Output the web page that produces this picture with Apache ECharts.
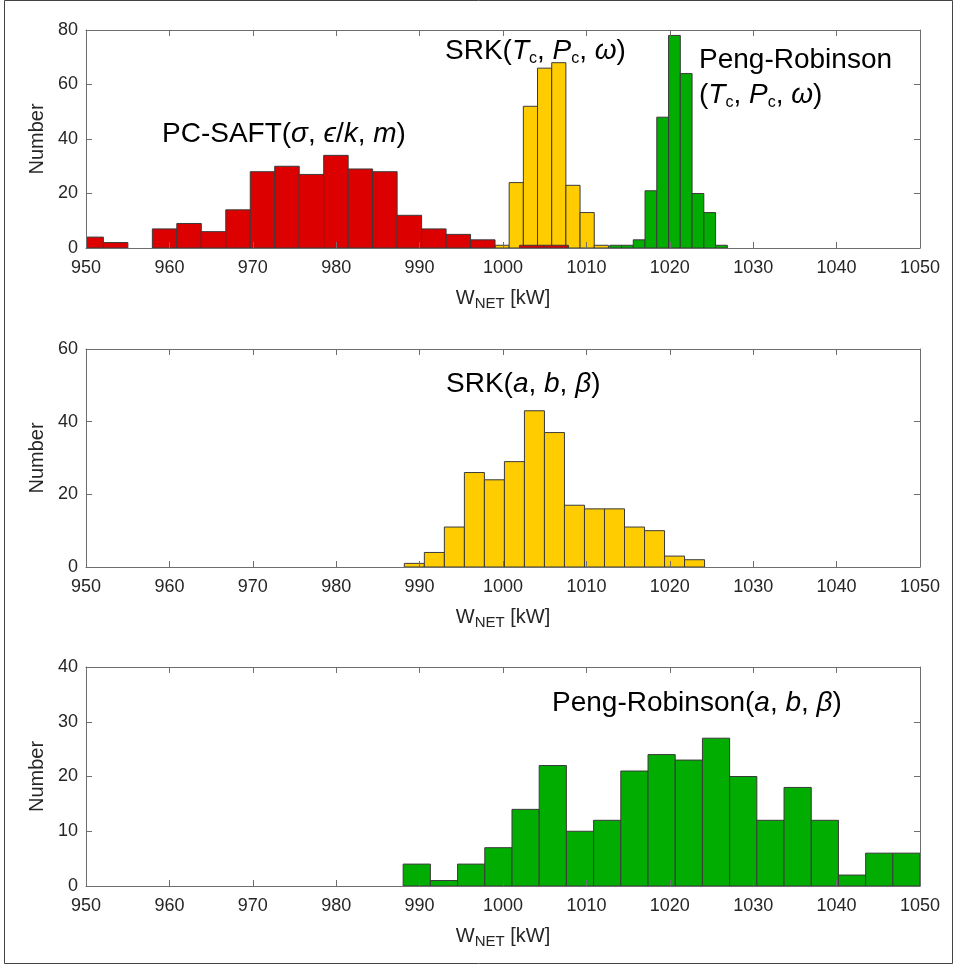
<!DOCTYPE html>
<html>
<head>
<meta charset="utf-8">
<script src="https://cdn.jsdelivr.net/npm/echarts@6/dist/echarts.min.js"></script>
<style>
  html, body { margin: 0; padding: 0; background: #fff; }
  #chart { width: 953px; height: 965px; }
</style>
</head>
<body>
<div id="chart"></div>
<script>
// Shared x range of the three histograms (net power, kW)
const xMin = 950, xMax = 1050, xStep = 10;

// Y ranges of the three panels
const yMaxTop = 80, yStepTop = 20;
const yMaxMid = 60, yStepMid = 20;
const yMaxBot = 40, yStepBot = 10;

// Histogram bins: first bin edge, bin width, counts per bin
const pcSaftStart = 949.15, pcSaftWidth = 2.935;
const pcSaftCounts = [4, 2, 0, 7, 9, 6, 14, 28, 30, 27, 34, 29, 28, 12, 7, 5, 3, 0, 1, 1];

const srkTcStart = 999.04, srkTcWidth = 1.70;
const srkTcCounts = [1, 24, 52, 66, 68, 23, 13, 1];

const prTcStart = 1012.8, prTcWidth = 1.41;
const prTcCounts = [1, 1, 3, 21, 48, 78, 64, 20, 13, 1];

const srkAbStart = 988.17, srkAbWidth = 2.40;
const srkAbCounts = [1, 4, 11, 26, 24, 29, 43, 37, 17, 16, 16, 11, 10, 3, 2];

const prAbStart = 988.03, prAbWidth = 3.262;
const prAbCounts = [4, 1, 4, 7, 14, 22, 10, 12, 21, 24, 23, 27, 20, 12, 18, 12, 2, 6, 6];

const RED = '#dc0000', YELLOW = '#ffcc00', GREEN = '#00ad00';
const EDGE = '#3a3a3a';
const AXIS = '#6e6e6e';
const TEXT = '#262626';
const FONT = '"Liberation Sans", Arial, Helvetica, sans-serif';

function bins(start, width, counts) {
  return counts.map((c, i) => [start + i * width, start + (i + 1) * width, c]);
}

function renderBin(params, api) {
  const x0 = Math.max(api.value(0), xMin);
  const x1 = Math.min(api.value(1), xMax);
  const n = api.value(2);
  if (!n || x1 <= x0) return null;
  const pTop = api.coord([x0, n]);
  const pBot = api.coord([x1, 0]);
  return {
    type: 'rect',
    shape: { x: pTop[0], y: pTop[1], width: pBot[0] - pTop[0], height: pBot[1] - pTop[1] },
    style: { fill: api.visual('color'), stroke: EDGE, lineWidth: 1 }
  };
}

function histSeries(grid, data, color) {
  return {
    type: 'custom',
    xAxisIndex: grid * 2,
    yAxisIndex: grid * 2,
    renderItem: renderBin,
    encode: { x: [0, 1], y: 2 },
    itemStyle: { color: color },
    clip: true,
    silent: true,
    data: data
  };
}

const grids = [
  { left: 86, right: 33, top: 30, height: 218 },
  { left: 86, right: 33, top: 349, height: 218 },
  { left: 86, right: 33, top: 667, height: 219 }
];

const xName = '{a|W}{s|NET}{a| [kW]}';
const xNameRich = {
  a: { fontSize: 20, fontFamily: FONT, color: TEXT, lineHeight: 26 },
  s: { fontSize: 15, fontFamily: FONT, color: TEXT, lineHeight: 4, verticalAlign: 'bottom' }
};

const plainNumber = v => String(v);

function xAxes(grid) {
  const common = {
    gridIndex: grid, type: 'value', min: xMin, max: xMax, interval: xStep,
    axisLine: { show: true, onZero: false, lineStyle: { color: AXIS, width: 1 } },
    axisTick: { show: true, inside: true, length: 6, lineStyle: { color: AXIS } },
    splitLine: { show: false },
    z: 5
  };
  return [
    Object.assign({}, common, {
      position: 'bottom',
      axisLabel: { show: true, margin: 11, fontSize: 18, fontFamily: FONT, color: TEXT, formatter: plainNumber },
      name: xName, nameLocation: 'middle', nameGap: 37,
      nameTextStyle: { rich: xNameRich }
    }),
    Object.assign({}, common, { position: 'top', axisLabel: { show: false } })
  ];
}

function yAxes(grid, max, step) {
  const common = {
    gridIndex: grid, type: 'value', min: 0, max: max, interval: step,
    axisLine: { show: true, onZero: false, lineStyle: { color: AXIS, width: 1 } },
    axisTick: { show: true, inside: true, length: 6, lineStyle: { color: AXIS } },
    splitLine: { show: false },
    z: 5
  };
  return [
    Object.assign({}, common, {
      position: 'left',
      axisLabel: { show: true, margin: 8, fontSize: 18, fontFamily: FONT, color: TEXT, formatter: plainNumber },
      name: 'Number', nameLocation: 'middle', nameGap: 29, nameRotate: 90,
      nameTextStyle: { fontSize: 20, fontFamily: FONT, color: TEXT }
    }),
    Object.assign({}, common, { position: 'right', axisLabel: { show: false } })
  ];
}

// Rich-text styles for the curve annotations
const labelRich = {
  n: { fontSize: 28, fontFamily: FONT, color: '#000', lineHeight: 32 },
  i: { fontSize: 28, fontFamily: FONT, fontStyle: 'italic', color: '#000', lineHeight: 32 },
  c: { fontSize: 16, fontFamily: FONT, color: '#000', lineHeight: 12, verticalAlign: 'bottom' }
};

function note(x, y, text) {
  return {
    type: 'text', x: x, y: y, silent: true, z: 10,
    style: { text: text, rich: labelRich, align: 'left', verticalAlign: 'middle', fill: '#000',
             font: '28px ' + FONT }
  };
}

const option = {
  animation: false,
  backgroundColor: '#fff',
  grid: grids,
  xAxis: [].concat(xAxes(0), xAxes(1), xAxes(2)),
  yAxis: [].concat(yAxes(0, yMaxTop, yStepTop), yAxes(1, yMaxMid, yStepMid), yAxes(2, yMaxBot, yStepBot)),
  series: [
    histSeries(0, bins(srkTcStart, srkTcWidth, srkTcCounts), YELLOW),
    histSeries(0, bins(prTcStart, prTcWidth, prTcCounts), GREEN),
    histSeries(0, bins(pcSaftStart, pcSaftWidth, pcSaftCounts), RED),
    histSeries(1, bins(srkAbStart, srkAbWidth, srkAbCounts), YELLOW),
    histSeries(2, bins(prAbStart, prAbWidth, prAbCounts), GREEN)
  ],
  graphic: [
    {
      type: 'rect', silent: true, z: 0,
      shape: { x: 4.5, y: 0.5, width: 948, height: 963 },
      style: { fill: 'none', stroke: '#444', lineWidth: 1 }
    },
    note(162, 134, '{n|PC-SAFT(}{i|σ}{n|, }{i|ϵ}{n|/}{i|k}{n|, }{i|m}{n|)}'),
    note(445, 51, '{n|SRK(}{i|T}{c|c}{n|, }{i|P}{c|c}{n|, }{i|ω}{n|)}'),
    note(699, 60, '{n|Peng-Robinson}'),
    note(699, 95, '{n|(}{i|T}{c|c}{n|, }{i|P}{c|c}{n|, }{i|ω}{n|)}'),
    note(446, 384, '{n|SRK(}{i|a}{n|, }{i|b}{n|, }{i|β}{n|)}'),
    note(552, 703, '{n|Peng-Robinson(}{i|a}{n|, }{i|b}{n|, }{i|β}{n|)}')
  ]
};

const chart = echarts.init(document.getElementById('chart'), null, { renderer: 'canvas' });
chart.setOption(option);
</script>
</body>
</html>
